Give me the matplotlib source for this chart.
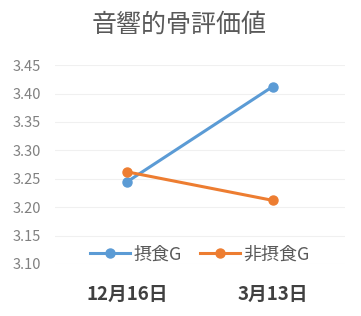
import matplotlib
matplotlib.use('Agg')
import matplotlib.pyplot as plt

plt.rcParams['font.family'] = ['Noto Sans CJK JP', 'DejaVu Sans']

# データ
categories = ['12月16日', '3月13日']
series_names = ['摂食G', '非摂食G']
intake = [3.245, 3.412]
non_intake = [3.262, 3.212]
y_ticks = [3.10, 3.15, 3.20, 3.25, 3.30, 3.35, 3.40, 3.45]

fig = plt.figure(figsize=(3.61, 3.16), dpi=100)
ax = fig.add_axes([0.152, 0.1646, 0.804, 0.6294])

x = list(range(len(categories)))
ax.plot(x, intake, color='#5B9BD5', lw=2.2, marker='o', ms=6.5, label=series_names[0])
ax.plot(x, non_intake, color='#ED7D31', lw=2.2, marker='o', ms=6.5, label=series_names[1])

ax.set_xlim(-0.5, 1.5)
ax.set_ylim(3.10, 3.45)
ax.set_yticks(y_ticks)
ax.set_yticklabels([f'{v:.2f}' for v in y_ticks], color='#808080', fontsize=10.5)
ax.set_xticks(x)
ax.set_xticklabels(categories, fontsize=13.5, fontweight='bold', color='#404040')
ax.tick_params(axis='y', length=0, pad=10)
ax.tick_params(axis='x', length=0, pad=15)
ax.grid(axis='y', color='#f0f0f0', lw=0.8)
ax.set_axisbelow(True)
for s in ax.spines.values():
    s.set_visible(False)

fig.text(0.496, 0.921, '音響的骨評価値', ha='center', va='center', fontsize=18, color='#595959')

ax.legend(loc='lower center', bbox_to_anchor=(0.5, -0.08), ncol=2, frameon=False,
          fontsize=13, labelcolor='#595959', handlelength=2.2, columnspacing=1.0,
          handletextpad=0.2)

fig.savefig('out.png', dpi=100)
